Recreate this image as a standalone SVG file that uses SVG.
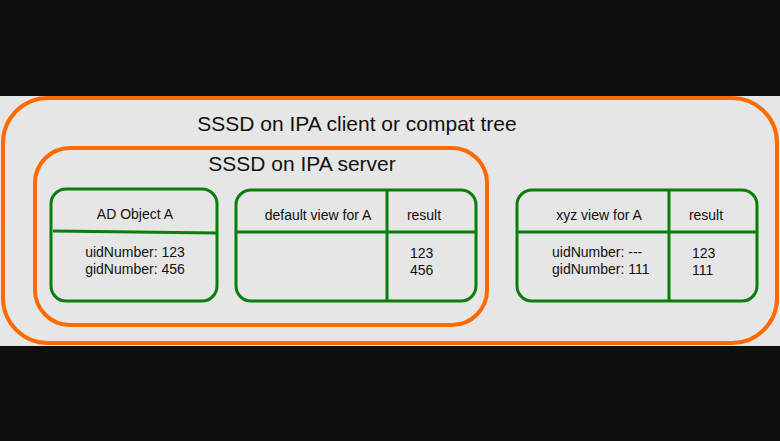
<svg xmlns="http://www.w3.org/2000/svg" width="780" height="441" viewBox="0 0 780 441">
<style>
.bg{fill:#0f0f0f}
.band{fill:#e6e6e6}
.org{fill:none;stroke:#ff6a00;stroke-width:4}
.box{fill:none;stroke:#0a7d0a;stroke-width:3}
.div{stroke:#0a7d0a;stroke-width:3;fill:none}
text{font-family:"Liberation Sans",Arial,sans-serif;fill:#111}
.big{font-size:21px}
.sm{font-size:14px}
</style>
<rect class="bg" x="0" y="0" width="780" height="441"/>
<rect class="band" x="0" y="96" width="780" height="250"/>
<g id="client">
<rect class="org" x="3" y="98" width="774" height="245" rx="45"/>
<text class="big" x="357" y="131" text-anchor="middle">SSSD on IPA client or compat tree</text>
</g>
<g id="server">
<rect class="org" x="35" y="148" width="452" height="177" rx="35"/>
<text class="big" x="302" y="171" text-anchor="middle">SSSD on IPA server</text>
</g>
<g id="adobject">
<rect class="box" x="51" y="189" width="166" height="112" rx="15"/>
<path class="div" d="M53 231 L217 233" stroke-width="4"/>
<text class="sm" x="135" y="219" text-anchor="middle">AD Object A</text>
<text class="sm" x="135" y="257" text-anchor="middle">uidNumber: 123</text>
<text class="sm" x="135" y="274" text-anchor="middle">gidNumber: 456</text>
</g>
<g id="defaultview">
<rect class="box" x="236" y="190" width="240" height="111" rx="15"/>
<path class="div" d="M387 190 V301 M236 232 H476"/>
<text class="sm" x="318" y="220" text-anchor="middle">default view for A</text>
<text class="sm" x="424" y="220" text-anchor="middle">result</text>
<text class="sm" x="410" y="258">123</text>
<text class="sm" x="410" y="275">456</text>
</g>
<g id="xyzview">
<rect class="box" x="517" y="190" width="240" height="111" rx="15"/>
<path class="div" d="M669 190 V301 M517 232 H757"/>
<text class="sm" x="599" y="220" text-anchor="middle">xyz view for A</text>
<text class="sm" x="706" y="220" text-anchor="middle">result</text>
<text class="sm" x="552" y="257">uidNumber: ---</text>
<text class="sm" x="552" y="274">gidNumber: 111</text>
<text class="sm" x="692" y="258">123</text>
<text class="sm" x="692" y="275">111</text>
</g>
<g id="connectors"></g>
</svg>
